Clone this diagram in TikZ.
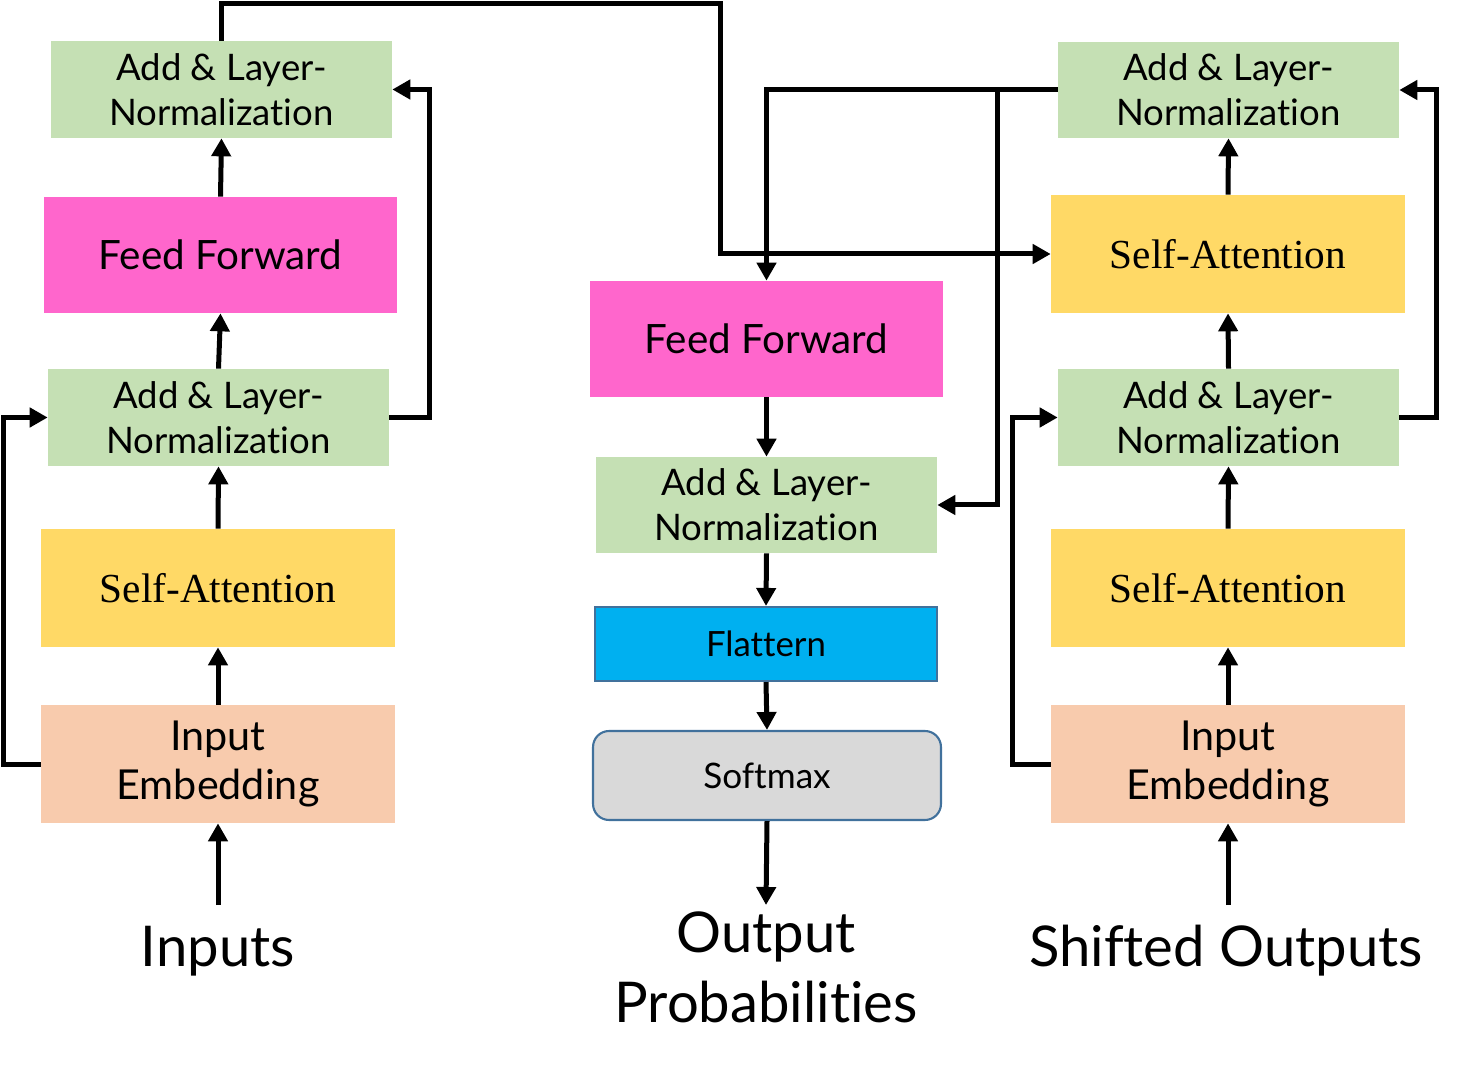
\documentclass[tikz,border=0pt]{standalone}
\usepackage{fontspec}
\setmainfont{Lato}[Ligatures=NoCommon]
\newfontfamily\serifface{Liberation Serif}
\usetikzlibrary{arrows.meta}
\definecolor{cgreen}{HTML}{C5E0B4}
\definecolor{cpink}{HTML}{FF66CC}
\definecolor{cyellow}{HTML}{FFD966}
\definecolor{cpeach}{HTML}{F8CBAD}
\definecolor{ccyan}{HTML}{00B0F0}
\definecolor{cgray}{HTML}{D9D9D9}
\definecolor{cborder}{HTML}{41719C}
\begin{document}
\begin{tikzpicture}[x=0.02cm,y=-0.02cm,
  box/.style={rectangle,inner sep=0pt,align=center},
  addnorm/.style={box,fill=cgreen,minimum width=6.82cm,minimum height=1.94cm,font=\fontsize{20.8}{25.5}\selectfont},
  ffbox/.style={box,fill=cpink,minimum width=7.06cm,minimum height=2.32cm,font=\fontsize{23}{27}\selectfont},
  sabox/.style={box,fill=cyellow,minimum width=7.08cm,minimum height=2.36cm,font=\serifface\fontsize{23.5}{27}\selectfont},
  iebox/.style={box,fill=cpeach,minimum width=7.08cm,minimum height=2.36cm,font=\fontsize{23.5}{28.3}\selectfont},
  biglabel/.style={align=center,inner sep=0pt,font=\fontsize{32}{39.7}\selectfont},
  arr/.style={line width=0.1cm,-{Triangle[length=0.36cm,width=0.38cm]}}
]
\useasboundingbox (0,0) rectangle (1457,1070);

% left column
\node[addnorm] (lan1) at (221.5,89.5) {Add \& Layer-\\Normalization};
\node[ffbox] (lff) at (220.5,255) {Feed Forward};
\node[addnorm] (lan2) at (218.5,417.5) {Add \& Layer-\\Normalization};
\node[sabox] (lsa) at (218,588) {Self-Attention};
\node[iebox] (lie) at (218,764) {Input\\Embedding};
\node[biglabel] (lin) at (218,951) {Inputs};
\coordinate (linc) at (218,905);

% middle column
\node[ffbox] (mff) at (766.5,339) {Feed Forward};
\node[addnorm,minimum height=1.92cm] (man) at (766.5,505) {Add \& Layer-\\Normalization};
\node[box,fill=ccyan,draw=cborder,line width=1.2pt,minimum width=6.84cm,minimum height=1.48cm,font=\fontsize{19.8}{24}\selectfont] (mfl) at (766,644) {Flattern};
\node[box,fill=cgray,draw=cborder,line width=1.2pt,rounded corners=0.32cm,minimum width=6.96cm,minimum height=1.78cm,font=\fontsize{20}{24}\selectfont] (msm) at (767,775.5) {Softmax};
\coordinate (moutc) at (766,905);
\node[biglabel] (mout) at (766,967) {Output\\Probabilities};

% right column
\node[addnorm,minimum height=1.92cm] (ran1) at (1228.5,90) {Add \& Layer-\\Normalization};
\node[sabox] (rsa1) at (1228,254) {Self-Attention};
\node[addnorm] (ran2) at (1228.5,417.5) {Add \& Layer-\\Normalization};
\node[sabox] (rsa2) at (1228,588) {Self-Attention};
\node[iebox] (rie) at (1228,764) {Input\\Embedding};
\node[biglabel] (rin) at (1226,951) {Shifted Outputs};
\coordinate (rinc) at (1228,905);

% left arrows
\draw[arr] (linc) -- (lie.south);
\draw[arr] (lie.north) -- (lsa.south);
\draw[arr] (lsa.north) -- (lan2.south);
\draw[arr] (lan2.north) -- (lff.south);
\draw[arr] (lff.north) -- (lan1.south);
\draw[arr] (lie.west) -- ++(-37,0) |- (lan2.west);
\draw[arr] (lan2.east) -- ++(40,0) |- (lan1.east);

% right arrows
\draw[arr] (rinc) -- (rie.south);
\draw[arr] (rie.north) -- (rsa2.south);
\draw[arr] (rsa2.north) -- (ran2.south);
\draw[arr] (ran2.north) -- (rsa1.south);
\draw[arr] (rsa1.north) -- (ran1.south);
\draw[arr] (rie.west) -- ++(-38,0) |- (ran2.west);
\draw[arr] (ran2.east) -- ++(37,0) |- (ran1.east);

% encoder output to right self-attention
\coordinate (ltop) at (720,4);
\draw[arr] (lan1.north) |- (ltop) |- (rsa1.west);

% right top add&norm to middle
\draw[arr] (ran1.west) -| (mff.north);
\coordinate (br) at (997,90);
\draw[arr] (br) |- (man.east);

% middle arrows
\draw[arr] (mff.south) -- (man.north);
\draw[arr] (man.south) -- (mfl.north);
\draw[arr] (mfl.south) -- (msm.north);
\draw[arr] (msm.south) -- (moutc);
\end{tikzpicture}
\end{document}
